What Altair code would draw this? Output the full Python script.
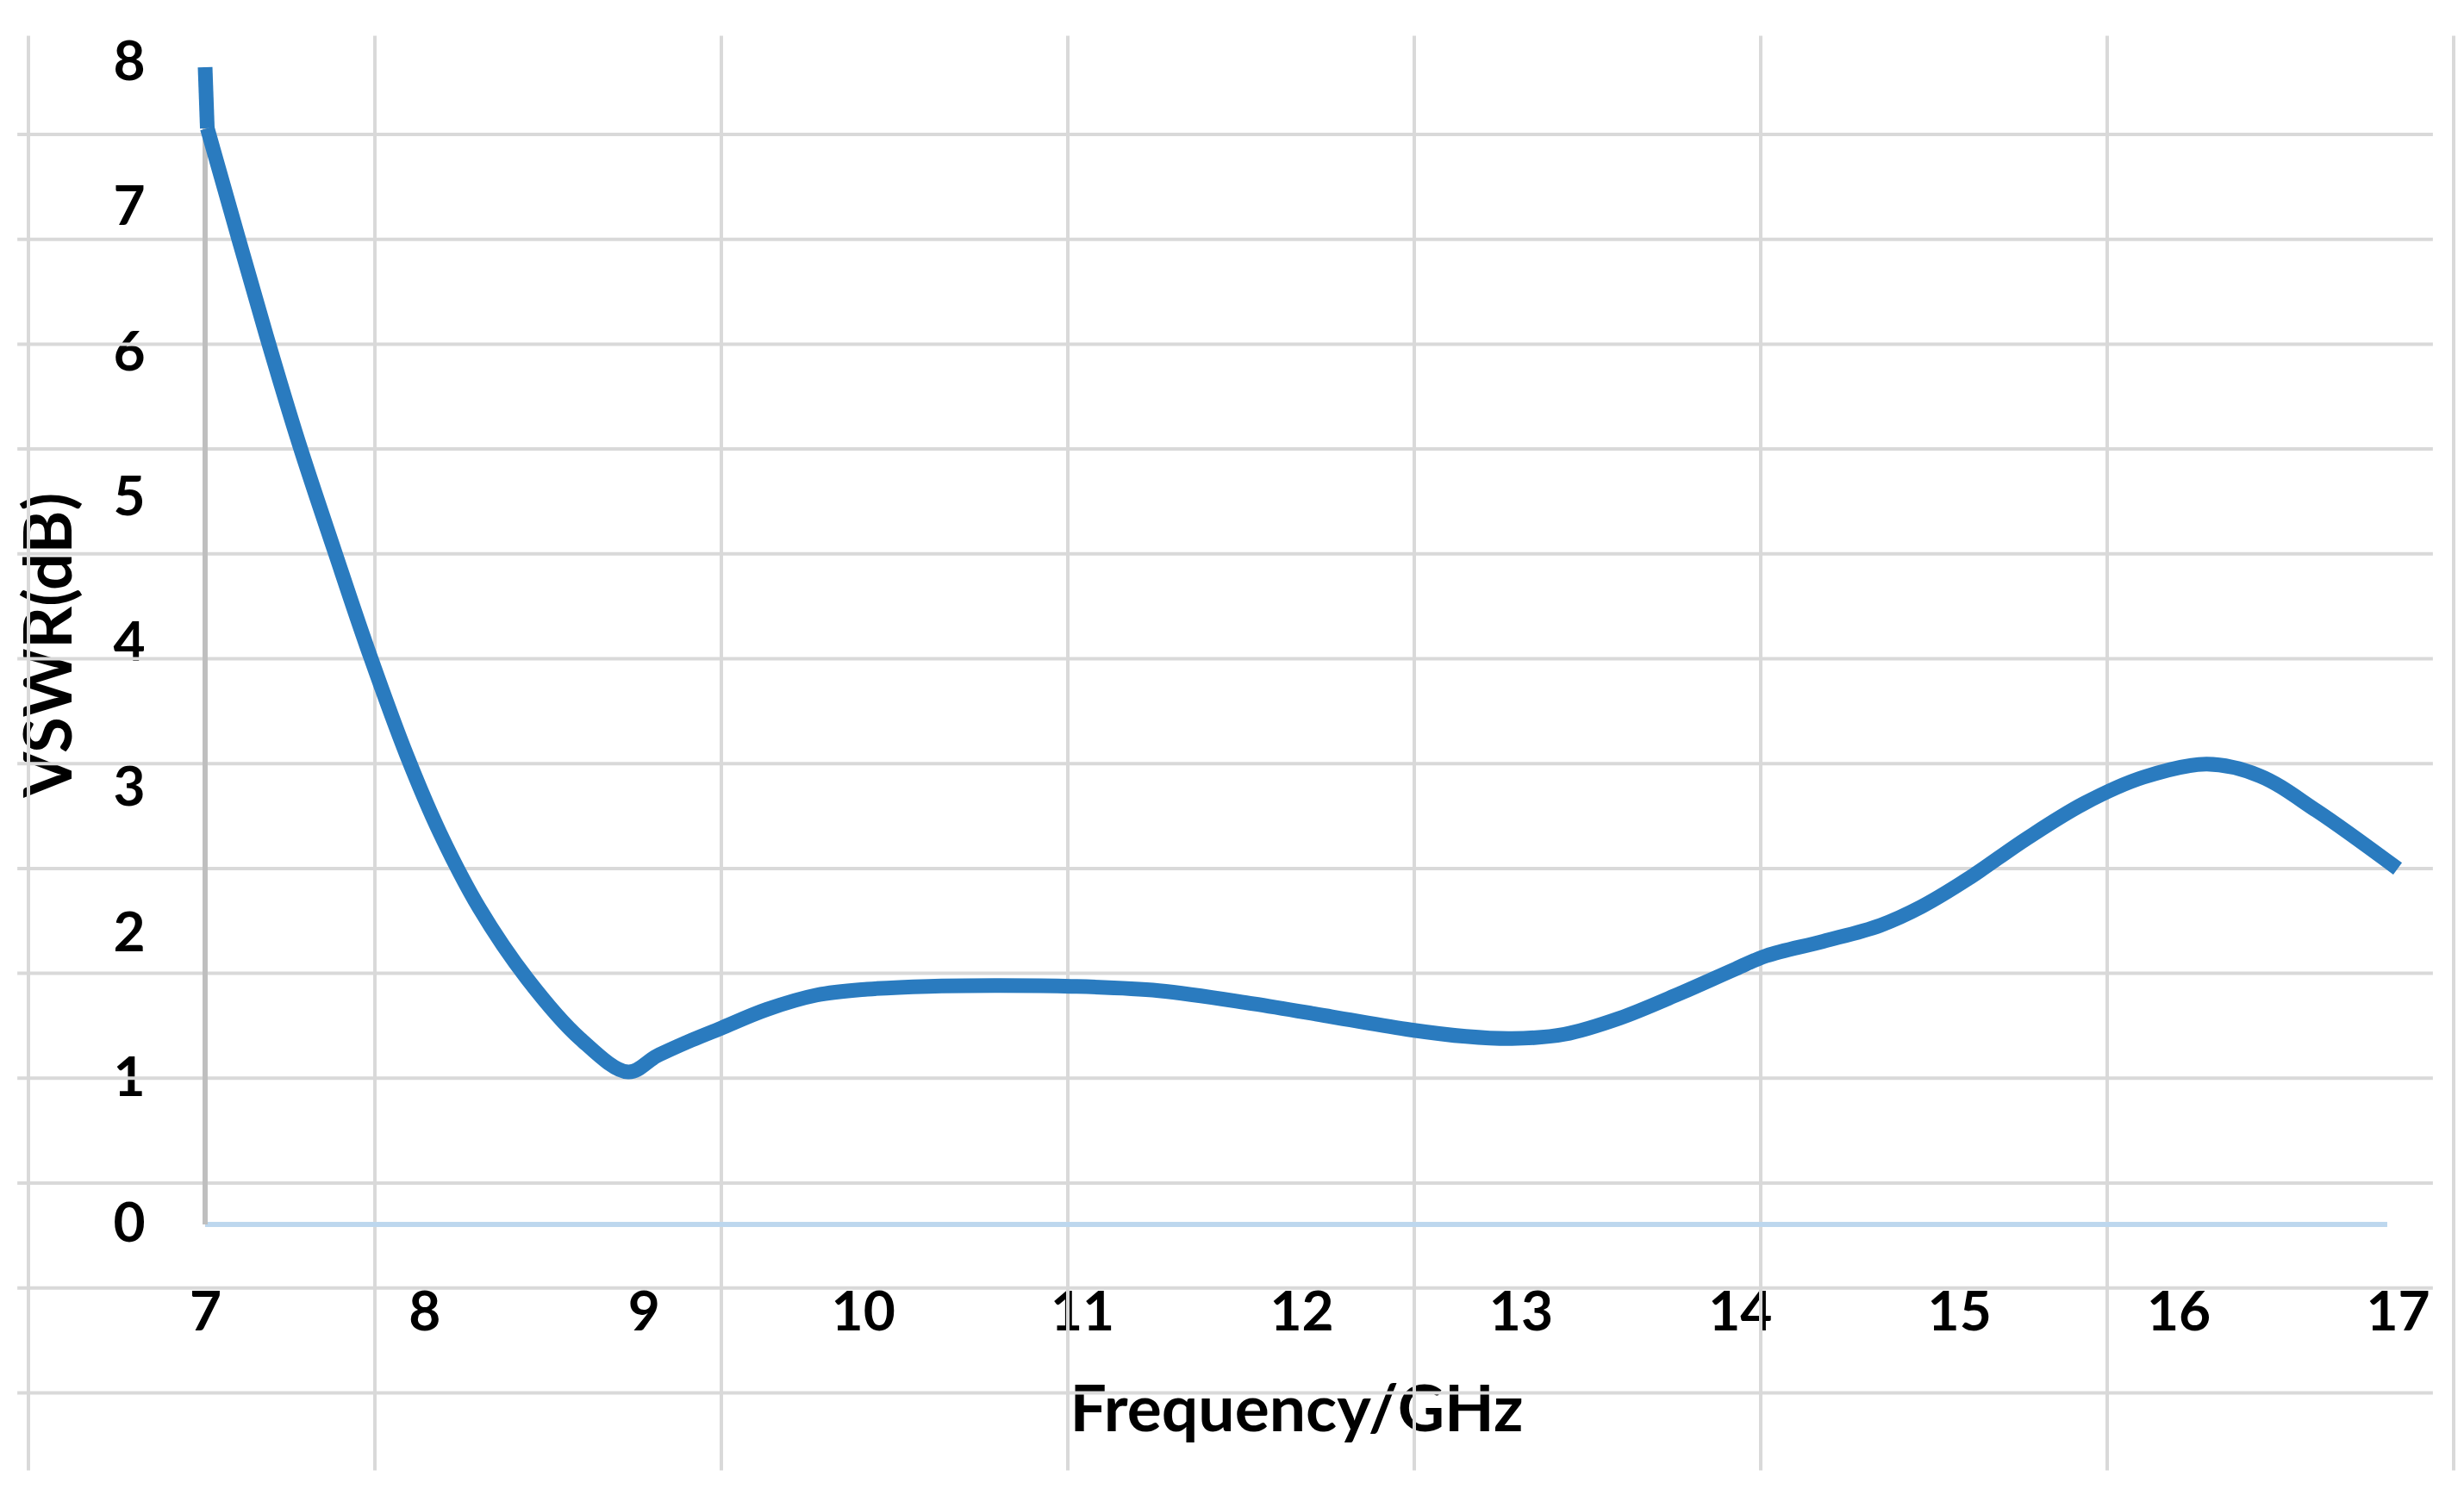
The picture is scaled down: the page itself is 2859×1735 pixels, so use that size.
import altair as alt
import pandas as pd

# ---- data ----
freq = [7.00, 7.01, 7.28, 7.43, 7.59, 7.74, 7.92, 8.07, 8.25, 8.47, 8.71, 8.93,
        9.06, 9.22, 9.35, 9.56, 9.79, 10.02, 10.30, 10.60, 10.95, 11.35,
        11.78, 12.14, 12.50, 12.75, 12.96, 13.20, 13.45, 13.71, 13.98, 14.12,
        14.38, 14.64, 14.83, 15.04, 15.31, 15.57, 15.84, 16.13, 16.37,
        16.63, 17.00]
vswr = [7.97, 7.55, 6.12, 5.37, 4.64, 3.97, 3.23, 2.70, 2.18, 1.69, 1.28, 1.05,
        1.16, 1.27, 1.35, 1.48, 1.58, 1.62, 1.64, 1.645, 1.64, 1.61,
        1.52, 1.43, 1.34, 1.295, 1.28, 1.31, 1.42, 1.58, 1.76, 1.85,
        1.95, 2.06, 2.19, 2.38, 2.66, 2.90, 3.08, 3.17, 3.09,
        2.85, 2.45]
x_ticks = [7, 8, 9, 10, 11, 12, 13, 14, 15, 16, 17]
y_ticks = [0, 1, 2, 3, 4, 5, 6, 7, 8]

# background sheet grid (columns / rows of the underlying sheet)
grid_cols = [0, 1, 2, 3, 4, 5, 6, 7]
grid_rows = [0, 1, 2, 3, 4, 5, 6, 7, 8, 9, 10, 11, 12]
col_span = [-0.032, 6.94]
row_span = [-0.94, 12.74]

FONT = "Lato"
BLUE = "#2a7bbf"

head_df = pd.DataFrame({"f": freq[:2], "v": vswr[:2]})     # straight start stub
body_df = pd.DataFrame({"f": freq[1:], "v": vswr[1:]})     # smoothed curve
vgrid_df = pd.DataFrame({"col": grid_cols, "r0": [row_span[0]] * len(grid_cols),
                         "r1": [row_span[1]] * len(grid_cols)})
hgrid_df = pd.DataFrame({"row": grid_rows, "c0": [col_span[0]] * len(grid_rows),
                         "c1": [col_span[1]] * len(grid_rows)})

W, H = 2544, 1348

bx = alt.Scale(domain=[0, 7], range=[-205, 2609], nice=False, zero=False)
by = alt.Scale(domain=[0, 12], range=[83, 1543.4], nice=False, zero=False)

vgrid = alt.Chart(vgrid_df).mark_rule(color="#d9d9d9", strokeWidth=4).encode(
    x=alt.X("col:Q", scale=bx, axis=None),
    y=alt.Y("r0:Q", scale=by, axis=None),
    y2="r1:Q",
)
hgrid = alt.Chart(hgrid_df).mark_rule(color="#d9d9d9", strokeWidth=4).encode(
    y=alt.Y("row:Q", scale=by, axis=None),
    x=alt.X("c0:Q", scale=bx, axis=None),
    x2="c1:Q",
)
grid = alt.layer(vgrid, hgrid)

xs = alt.Scale(domain=[7, 17], nice=False, zero=False)
ys = alt.Scale(domain=[0, 8], nice=False, zero=False)

x_axis = alt.Axis(
    values=x_ticks, format="d", ticks=False, domain=False, grid=False,
    labelFont=FONT, labelFontWeight="bold", labelFontSize=64, labelColor="#000000",
    labelPadding=71, labelFlush=False, labelOverlap=False,
    title="Frequency/GHz", titleFont=FONT, titleFontWeight="bold", titleFontSize=75,
    titleColor="#000000", titleX=1266, titleY=239, titleAlign="center",
    titleBaseline="alphabetic",
)
y_axis = alt.Axis(
    values=y_ticks, format="d", ticks=False, domain=False, grid=False,
    labelFont=FONT, labelFontWeight="bold", labelFontSize=64, labelColor="#000000",
    labelPadding=70, labelFlush=False, labelOverlap=False,
    title="VSWR(dB)", titleFont=FONT, titleFontWeight="bold", titleFontSize=76,
    titleColor="#000000", titleX=-156, titleY=675, titleAlign="center",
    titleBaseline="alphabetic", titleAngle=270,
)

x_line = alt.Chart(body_df).mark_rule(color="#bdd7ee", strokeWidth=5).encode(
    x=alt.XDatum(7, type="quantitative", scale=xs, axis=x_axis),
    x2=alt.X2Datum(16.95),
    y=alt.YDatum(0, type="quantitative", scale=ys, axis=y_axis),
)
y_line = alt.Chart(body_df).mark_rule(color="#bfbfbf", strokeWidth=5).encode(
    x=alt.XDatum(7, type="quantitative", scale=xs, axis=x_axis),
    y=alt.YDatum(0, type="quantitative", scale=ys, axis=y_axis),
    y2=alt.Y2Datum(7.97),
)
head = alt.Chart(head_df).mark_line(color=BLUE, strokeWidth=17, strokeJoin="round").encode(
    x=alt.X("f:Q", scale=xs, axis=x_axis),
    y=alt.Y("v:Q", scale=ys, axis=y_axis),
)
body = alt.Chart(body_df).mark_line(color=BLUE, strokeWidth=17, interpolate="catmull-rom").encode(
    x=alt.X("f:Q", scale=xs, axis=x_axis),
    y=alt.Y("v:Q", scale=ys, axis=y_axis),
)
data_layer = alt.layer(x_line, y_line, head, body)

chart = alt.layer(grid, data_layer).resolve_scale(
    x="independent", y="independent"
).properties(
    width=W, height=H,
    padding={"left": 230, "top": 65, "right": 69, "bottom": 306},
    autosize=alt.AutoSizeParams(type="none"),
    background="#ffffff",
).configure_view(stroke=None)

chart.save("out.html", embed_options={"renderer": "svg", "actions": False})
